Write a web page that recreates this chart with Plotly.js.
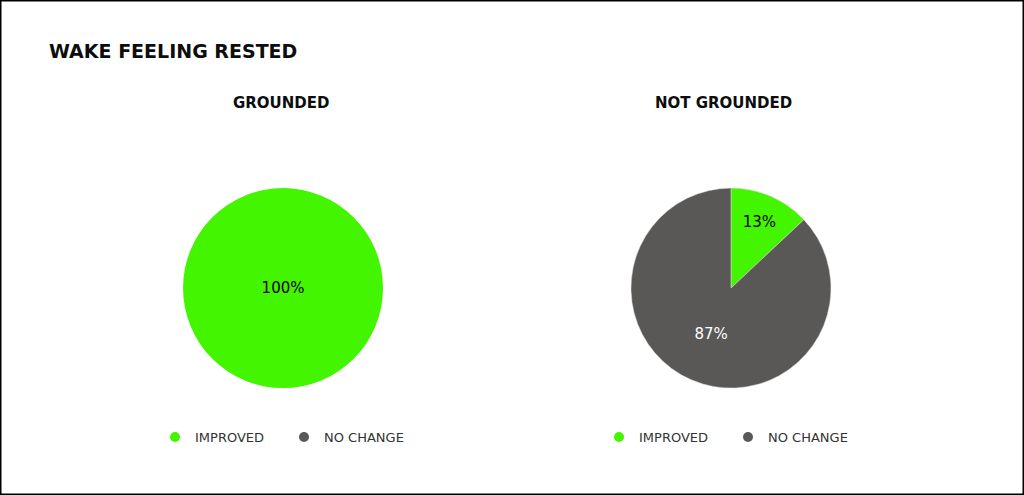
<!DOCTYPE html>
<html>
<head>
<meta charset="utf-8">
<script src="https://cdn.plot.ly/plotly-3.0.1.min.js"></script>
<style>
  html, body { margin: 0; padding: 0; background: #fff; }
  #chart { width: 1024px; height: 495px; }
</style>
</head>
<body>
<div id="chart"></div>
<script>
// wake feeling rested, share of people by answer
const categories = ['IMPROVED', 'NO CHANGE'];
const groundedValues = [100, 0];
const notGroundedValues = [13, 87];
const groupNames = ['GROUNDED', 'NOT GROUNDED'];

const colors = ['#44F500', '#595857'];
const font = 'DejaVu Sans, sans-serif';

function pieTrace(values, xDomain, lineWidth) {
    return {
        type: 'pie',
        labels: categories,
        values: values,
        sort: false,
        direction: 'clockwise',
        rotation: 0,
        marker: {colors: colors, line: {color: '#dddddd', width: lineWidth}},
        textinfo: 'percent',
        texttemplate: values.map(v => v > 0 ? '%{percent:.0%}' : ''),
        textposition: 'inside',
        insidetextorientation: 'horizontal',
        textfont: {family: font, size: 15, color: ['#000000', '#ffffff']},
        hoverinfo: 'label+percent',
        showlegend: false,
        domain: {x: xDomain, y: [0.216, 0.62]},
    };
}

// dummy traces so the legend gets round markers
function legendTrace(i, legendId) {
    return {
        type: 'scatter',
        mode: 'markers',
        x: [null],
        y: [null],
        name: categories[i],
        legend: legendId,
        marker: {symbol: 'circle', size: 10, color: colors[i]},
        hoverinfo: 'skip',
    };
}

const data = [
    pieTrace(groundedValues, [0.1787, 0.3741], 0),
    pieTrace(notGroundedValues, [0.6162, 0.8115], 0.5),
    legendTrace(0, 'legend'),
    legendTrace(1, 'legend'),
    legendTrace(0, 'legend2'),
    legendTrace(1, 'legend2'),
];

const legendBase = {
    orientation: 'h',
    xanchor: 'left',
    yanchor: 'middle',
    y: 1 - 437 / 495,
    entrywidth: 84,
    entrywidthmode: 'pixels',
    font: {family: font, size: 13, color: '#333333'},
    bgcolor: 'rgba(0,0,0,0)',
    itemclick: false,
};

const layout = {
    width: 1024,
    height: 495,
    margin: {l: 0, r: 0, t: 0, b: 0},
    paper_bgcolor: '#ffffff',
    plot_bgcolor: '#ffffff',
    title: {
        text: '<b>WAKE FEELING RESTED</b>',
        font: {family: font, size: 19, color: '#0d0d0d'},
        x: 49 / 1024,
        xanchor: 'left',
        xref: 'paper',
        y: 1 - 51 / 495,
        yanchor: 'middle',
        yref: 'container',
    },
    xaxis: {visible: false},
    yaxis: {visible: false},
    showlegend: true,
    legend: Object.assign({}, legendBase, {x: 155 / 1024}),
    legend2: Object.assign({}, legendBase, {x: 599 / 1024}),
    annotations: [
        {text: '<b>' + groupNames[0] + '</b>', x: 281 / 1024, y: 1 - 103 / 495},
        {text: '<b>' + groupNames[1] + '</b>', x: 723 / 1024, y: 1 - 103 / 495},
    ].map(a => Object.assign(a, {
        xref: 'paper', yref: 'paper', xanchor: 'center', yanchor: 'middle',
        showarrow: false, font: {family: font, size: 15, color: '#0d0d0d'},
    })),
    shapes: [{
        type: 'rect', xref: 'paper', yref: 'paper',
        x0: 0, x1: 1, y0: 0, y1: 1,
        line: {color: '#000000', width: 3},
    }],
};

Plotly.newPlot('chart', data, layout, {displayModeBar: false, staticPlot: true});
</script>
</body>
</html>
